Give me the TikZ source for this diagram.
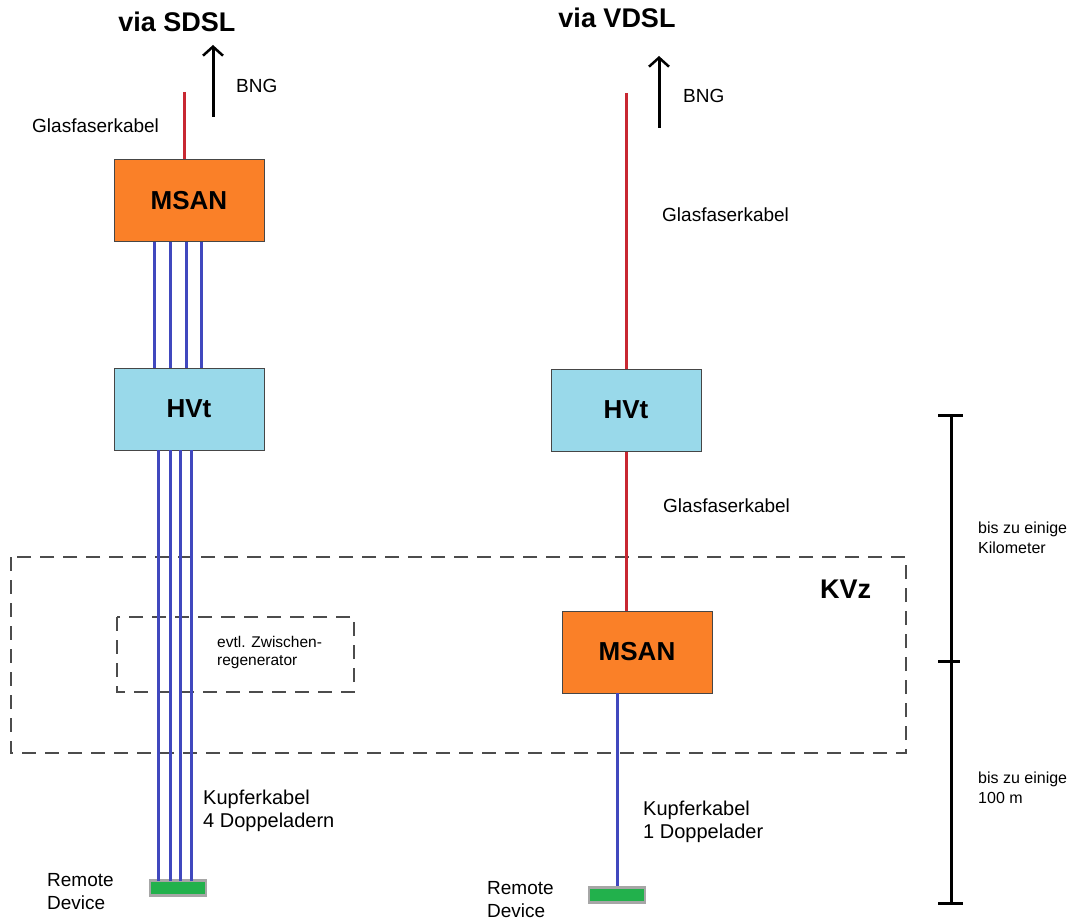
\documentclass[tikz,border=0pt]{standalone}
\usepackage{fontspec}
\setmainfont{Liberation Sans}
\usetikzlibrary{arrows.meta}
\definecolor{msanorange}{RGB}{250,128,40}
\definecolor{hvtblue}{RGB}{153,217,234}
\definecolor{devgreen}{RGB}{34,177,76}
\definecolor{fiberred}{RGB}{200,40,50}
\definecolor{copperblue}{RGB}{64,72,190}
\definecolor{boxedge}{RGB}{70,70,70}
\tikzset{
  box/.style={draw=boxedge, line width=1pt, minimum width=150pt, minimum height=82pt, inner sep=0pt, font=\fontsize{26}{30}\selectfont\bfseries},
  msan/.style={box, fill=msanorange},
  hvt/.style={box, fill=hvtblue},
  device/.style={draw=gray!70, line width=2.5pt, fill=devgreen, minimum width=56pt, minimum height=15pt, inner sep=0pt},
  fiber/.style={draw=fiberred, line width=3pt},
  copper/.style={draw=copperblue, line width=3pt},
  lbl/.style={font=\fontsize{19}{23}\selectfont, align=left, anchor=base west, inner sep=0pt},
  cu/.style={lbl, font=\fontsize{20}{23}\selectfont},
  small/.style={font=\fontsize{15.5}{18}\selectfont, align=left, anchor=base west, inner sep=0pt},
  scalelbl/.style={font=\fontsize{16}{20}\selectfont, align=left, anchor=base west, inner sep=0pt},
  title/.style={font=\fontsize{27}{30}\selectfont\bfseries, anchor=base, inner sep=0pt},
  uparrow/.style={line width=3pt, -{Straight Barb[length=9pt, width=20pt, line width=2.5pt]}},
  dashbox/.style={draw=black!70, line width=1.3pt, dash pattern=on 14pt off 9pt},
  bar/.style={line width=3pt, black}
}
\begin{document}
\begin{tikzpicture}[x=1pt, y=-1pt]
\useasboundingbox (0,0) rectangle (1077,920);
% dashed regions
\draw[dashbox] (11,557) rectangle (906,753);
\draw[dashbox] (117,617) rectangle (354,692);
\node[font=\fontsize{27}{30}\selectfont\bfseries, anchor=base west, inner sep=0pt] (kvz) at (820,598) {KVz};
\node[small] (zw) at (217,665) {evtl. Zwischen-\\regenerator};

% ---------------- left column (SDSL)
\node[title] (t1) at (177,32) {via SDSL};
\coordinate (a1s) at (213,117);
\coordinate (a1e) at (213,45);
\draw[uparrow] (a1s) -- (a1e);
\node[lbl] (bng1) at (236,93) {BNG};
\node[msan] (m1) at (189,201) {MSAN};
\node[hvt] (h1) at (189,409) {HVt};
\coordinate (f1top) at (184,92);
\draw[fiber] (f1top) -- (f1top |- m1.north);
\node[lbl] (g1) at (32,133) {Glasfaserkabel};
\foreach \x in {154,170,186,201}{
  \draw[copper] (\x,242) -- (\x,368);
}
\node[device] (d1) at (178,888) {};
\foreach \x in {158,170,180,191}{
  \draw[copper] (\x,450) -- (\x,881);
}
\node[cu] (k1) at (203,827) {Kupferkabel\\4 Doppeladern};
\node[lbl] (r1) at (47,909) {Remote\\Device};

% ---------------- right column (VDSL)
\node[title] (t2) at (617,28) {via VDSL};
\coordinate (a2s) at (659,128);
\coordinate (a2e) at (659,56);
\draw[uparrow] (a2s) -- (a2e);
\node[lbl] (bng2) at (683,103) {BNG};
\node[hvt] (h2) at (626,410) {HVt};
\node[msan] (m2) at (637,652) {MSAN};
\coordinate (f2top) at (626,93);
\draw[fiber] (f2top) -- (h2.north);
\draw[fiber] (h2.south) -- (h2.south |- m2.north);
\node[lbl] (g2) at (662,222) {Glasfaserkabel};
\node[lbl] (g3) at (663,512) {Glasfaserkabel};
\node[device] (d2) at (617,895) {};
\draw[copper] (617,693) -- (d2.north);
\node[cu] (k2) at (643,838) {Kupferkabel\\1 Doppelader};
\node[lbl] (r2) at (487,917) {Remote\\Device};

% ---------------- scale bar
\coordinate (sbt) at (951,415);
\coordinate (sbm) at (951,661);
\coordinate (sbb) at (951,903);
\draw[bar] (sbt) -- (sbb);
\draw[bar] (938,415) -- (963,415);
\draw[bar] (938,661) -- (960,661);
\draw[bar] (938,903) -- (963,903);
\node[scalelbl] (s1) at (978,553) {bis zu einige\\Kilometer};
\node[scalelbl] (s2) at (978,803) {bis zu einige\\100 m};
\end{tikzpicture}
\end{document}
